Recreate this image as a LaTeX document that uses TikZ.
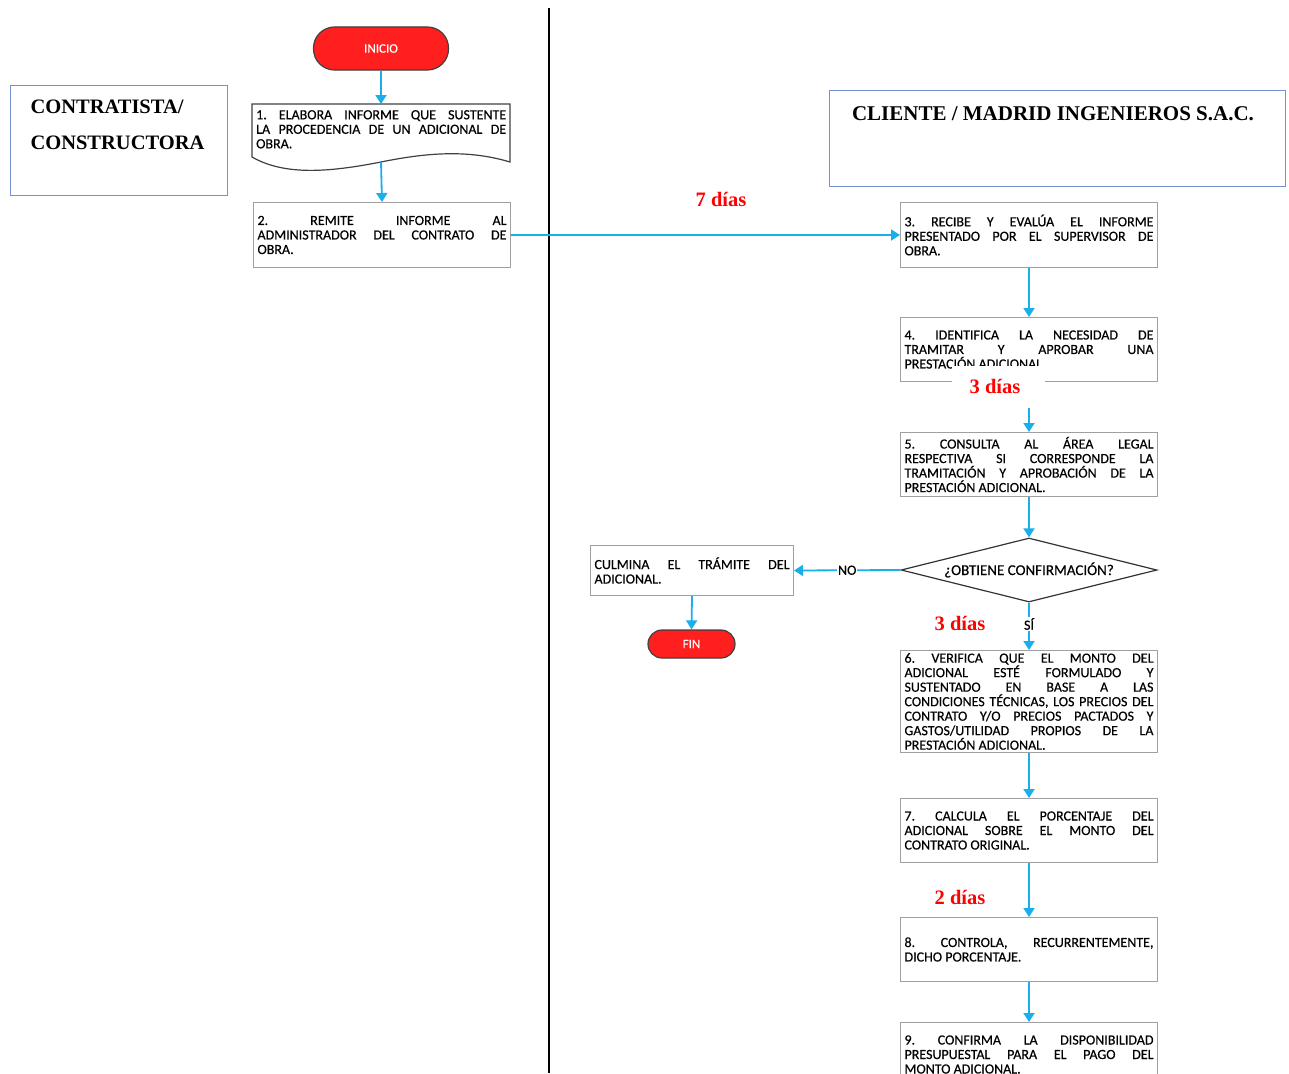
\documentclass[tikz,border=0pt]{standalone}
\usepackage{fontspec}
\setmainfont{Carlito}[FakeBold=0.4]
\newfontfamily\serifhead{Liberation Serif}
\usetikzlibrary{arrows.meta,shapes.geometric}

\definecolor{flowcyan}{HTML}{1AAEEA}
\definecolor{boxgray}{HTML}{A0A0A0}
\definecolor{laneblue}{HTML}{7493D4}
\definecolor{pillred}{HTML}{FF1F1F}
\definecolor{daysred}{HTML}{FF0000}

\newcommand{\boxfont}{\fontsize{14}{14.5}\selectfont\frenchspacing\hyphenpenalty=10000\exhyphenpenalty=10000}

\tikzset{
  x=1pt, y=-1pt,
  flow/.style={draw=flowcyan, line width=1.8pt, -{Triangle[length=9pt,width=11pt]}},
  stepbox/.style={draw=boxgray, line width=1pt, rectangle, anchor=north west,
    inner xsep=4pt, inner ysep=2pt, text width=249pt, align=justify, font=\boxfont},
  pill/.style={draw=black!75, line width=1.2pt, fill=pillred, text=white,
    rounded corners=14pt, font=\fontsize{13}{14}\selectfont},
  lane/.style={draw=laneblue, line width=1pt, rectangle, anchor=north west},
  lanetext/.style={font=\serifhead\bfseries\fontsize{20.5}{24}\selectfont},
  dias/.style={text=daysred, font=\serifhead\bfseries\fontsize{20.5}{23}\selectfont},
  tag/.style={fill=white, inner sep=1pt, font=\fontsize{14}{15}\selectfont}
}

\begin{document}
\begin{tikzpicture}
\useasboundingbox (0,0) rectangle (1289,1073);

% lane divider
\draw[line width=2pt] (549,8) -- (549,1073);

% lane headers
\node[lane, minimum width=217pt, minimum height=110pt] (laneA) at (10,85) {};
\node[lanetext, anchor=west] (laneA1) at (27,107) {CONTRATISTA/};
\node[lanetext, anchor=west] (laneA2) at (27,143) {CONSTRUCTORA};
\node[lane, minimum width=456pt, minimum height=96pt] (laneB) at (829,90) {};
\node[lanetext, font=\serifhead\bfseries\fontsize{21}{24}\selectfont] (laneB1) at (1053,114) {CLIENTE / MADRID INGENIEROS S.A.C.};

% start
\node[pill, minimum width=135pt, minimum height=43pt, rounded corners=21pt] (inicio) at (381,48.5) {INICIO};

% step 1: document shape
\draw[draw=black!75, line width=1.2pt]
  (252,104) -- (510,104) -- (510,162)
  .. controls (470,150) and (430,152) .. (381,162)
  .. controls (330,172) and (285,176) .. (252,157) -- cycle;
\node[anchor=north west, inner xsep=4pt, inner ysep=6pt, text width=250pt, align=justify, font=\boxfont] (b1) at (252,104)
  {1. ELABORA INFORME QUE SUSTENTE\linebreak LA PROCEDENCIA DE UN ADICIONAL DE\linebreak OBRA.};
\coordinate (b1n) at (381,104);
\coordinate (b1s) at (381,162);

% contractor side
\node[stepbox, minimum height=65pt] (b2) at (253,202)
  {2. REMITE INFORME AL\linebreak ADMINISTRADOR DEL CONTRATO DE\linebreak OBRA.};

% client side
\node[stepbox, minimum height=65pt] (b3) at (900,202)
  {3. RECIBE Y EVALÚA EL INFORME\linebreak PRESENTADO POR EL SUPERVISOR DE\linebreak OBRA.};
\node[stepbox, minimum height=64pt] (b4) at (900,317)
  {4. IDENTIFICA LA NECESIDAD DE\linebreak TRAMITAR Y APROBAR UNA\linebreak PRESTACIÓN ADICIONAL.};
\node[stepbox, minimum height=64pt] (b5) at (900,432)
  {5. CONSULTA AL ÁREA LEGAL\linebreak RESPECTIVA SI CORRESPONDE LA\linebreak TRAMITACIÓN Y APROBACIÓN DE LA\linebreak PRESTACIÓN ADICIONAL.};
\node[draw=black!80, line width=1.2pt, shape=diamond, aspect=4, inner sep=0pt,
      minimum width=256pt, minimum height=64pt, font=\fontsize{15}{16}\selectfont] (dec) at (1029,570)
  {¿OBTIENE CONFIRMACIÓN?};
\node[stepbox, text width=195pt, minimum height=50pt] (culm) at (590,545)
  {CULMINA EL TRÁMITE DEL\linebreak ADICIONAL.};
\node[pill, minimum width=87pt, minimum height=28pt] (fin) at (691.5,644) {FIN};
\node[stepbox, minimum height=102pt] (b6) at (900,650)
  {6. VERIFICA QUE EL MONTO DEL\linebreak ADICIONAL ESTÉ FORMULADO Y\linebreak SUSTENTADO EN BASE A LAS\linebreak CONDICIONES TÉCNICAS, LOS PRECIOS DEL\linebreak CONTRATO Y/O PRECIOS PACTADOS Y\linebreak GASTOS/UTILIDAD PROPIOS DE LA\linebreak PRESTACIÓN ADICIONAL.};
\node[stepbox, minimum height=64pt] (b7) at (900,798)
  {7. CALCULA EL PORCENTAJE DEL\linebreak ADICIONAL SOBRE EL MONTO DEL\linebreak CONTRATO ORIGINAL.};
\node[stepbox, minimum height=64pt] (b8) at (900,917)
  {8. CONTROLA, RECURRENTEMENTE,\linebreak DICHO PORCENTAJE.};
\node[stepbox, minimum height=64pt] (b9) at (900,1022)
  {9. CONFIRMA LA DISPONIBILIDAD\linebreak PRESUPUESTAL PARA EL PAGO DEL\linebreak MONTO ADICIONAL.};

% connectors
\draw[flow] (inicio.south) -- (b1n);
\draw[flow] (b1s) -- (b2.north);
\draw[flow] (b2.east) -- (b3.west);
\draw[flow] (b3.south) -- (b4.north);
\draw[flow] (b4.south) -- (b5.north);
\draw[flow] (b5.south) -- (dec.north);
\draw[flow] (dec.west) -- node[tag] (no) {NO} (culm.east);
\draw[flow] (culm.south) -- (fin.north);
\draw[flow] (dec.south) -- node[tag, pos=0.45] (si) {SÍ} (b6.north);
\draw[flow] (b6.south) -- (b7.north);
\draw[flow] (b7.south) -- (b8.north);
\draw[flow] (b8.south) -- (b9.north);

% durations
\node[dias] (d7) at (721,199) {7 días};
\fill[white] (952,366) rectangle (1045,408);
\node[dias] (d3a) at (995,386) {3 días};
\node[dias] (d3b) at (960,623) {3 días};
\node[dias] (d2) at (960,897) {2 días};
\end{tikzpicture}
\end{document}
